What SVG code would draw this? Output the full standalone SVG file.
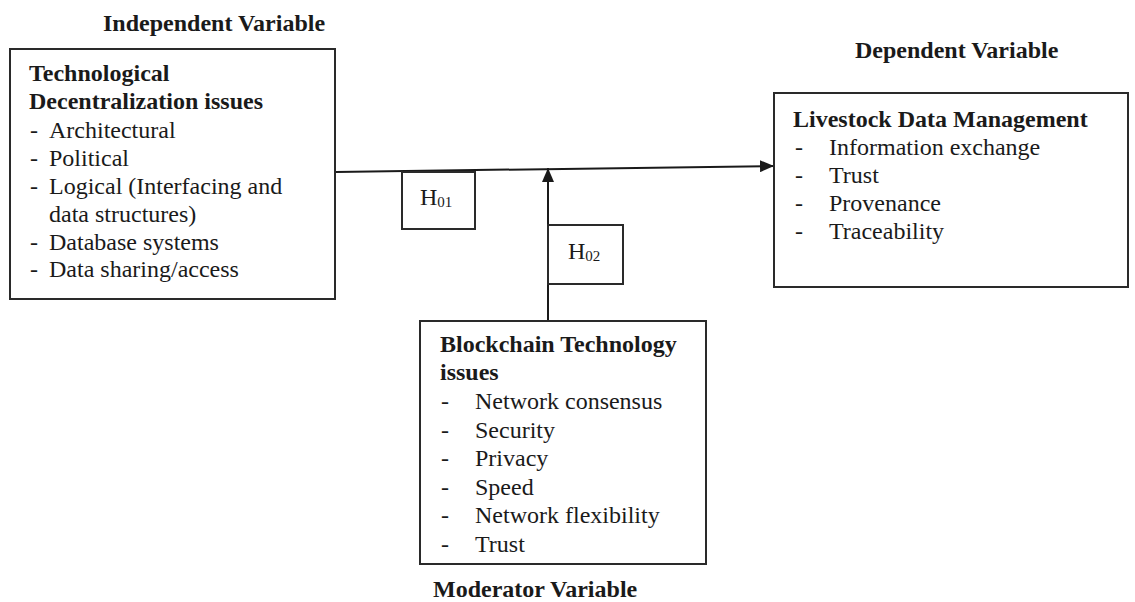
<svg xmlns="http://www.w3.org/2000/svg" width="1135" height="602" viewBox="0 0 1135 602">
<style>
text{font-family:"Liberation Serif","Times New Roman",serif;font-size:24px;fill:#1a1a1a}
.b{font-weight:bold}
.box{fill:#fff;stroke:#2a2a2a;stroke-width:2}
.con{stroke:#1a1a1a;stroke-width:2;fill:none}
.h{font-size:24px}
.sub{font-size:15px}
</style>
<defs>
<marker id="arr" markerUnits="userSpaceOnUse" markerWidth="14" markerHeight="12" refX="14" refY="6" orient="auto">
<path d="M0,0 L14,6 L0,12 z" fill="#1a1a1a"/>
</marker>
</defs>
<rect width="1135" height="602" fill="#fff"/>

<g id="connectors">
<line class="con" x1="336" y1="172" x2="774" y2="166" marker-end="url(#arr)"/>
<line class="con" x1="548" y1="321" x2="548" y2="168" marker-end="url(#arr)"/>
</g>

<g id="independent">
<text class="b" x="103" y="31">Independent Variable</text>
<rect class="box" x="10" y="49" width="325" height="250"/>
<text class="b" x="29" y="81">Technological</text>
<text class="b" x="29" y="109">Decentralization issues</text>
<text x="30" y="138">-</text><text x="49" y="138">Architectural</text>
<text x="30" y="166">-</text><text x="49" y="166">Political</text>
<text x="30" y="194">-</text><text x="49" y="194">Logical (Interfacing and</text>
<text x="49" y="222">data structures)</text>
<text x="30" y="250">-</text><text x="49" y="250">Database systems</text>
<text x="30" y="277">-</text><text x="49" y="277">Data sharing/access</text>
</g>

<g id="dependent">
<text class="b" x="855" y="58">Dependent Variable</text>
<rect class="box" x="774" y="93" width="354" height="194"/>
<text class="b" x="793" y="127">Livestock Data Management</text>
<text x="795" y="155">-</text><text x="829" y="155">Information exchange</text>
<text x="795" y="183">-</text><text x="829" y="183">Trust</text>
<text x="795" y="211">-</text><text x="829" y="211">Provenance</text>
<text x="795" y="239">-</text><text x="829" y="239">Traceability</text>
</g>

<g id="h01">
<rect class="box" x="402" y="172" width="73" height="57"/>
<text class="h" x="420" y="205">H<tspan class="sub" dy="2">01</tspan></text>
</g>

<g id="h02">
<rect class="box" x="548" y="225" width="75" height="59"/>
<text class="h" x="568" y="259">H<tspan class="sub" dy="2">02</tspan></text>
</g>

<g id="moderator">
<rect class="box" x="420" y="321" width="286" height="243"/>
<text class="b" x="440" y="352">Blockchain Technology</text>
<text class="b" x="440" y="380">issues</text>
<text x="441" y="409">-</text><text x="475" y="409">Network consensus</text>
<text x="441" y="438">-</text><text x="475" y="438">Security</text>
<text x="441" y="466">-</text><text x="475" y="466">Privacy</text>
<text x="441" y="495">-</text><text x="475" y="495">Speed</text>
<text x="441" y="523">-</text><text x="475" y="523">Network flexibility</text>
<text x="441" y="552">-</text><text x="475" y="552">Trust</text>
<text class="b" x="433" y="597">Moderator Variable</text>
</g>
</svg>
